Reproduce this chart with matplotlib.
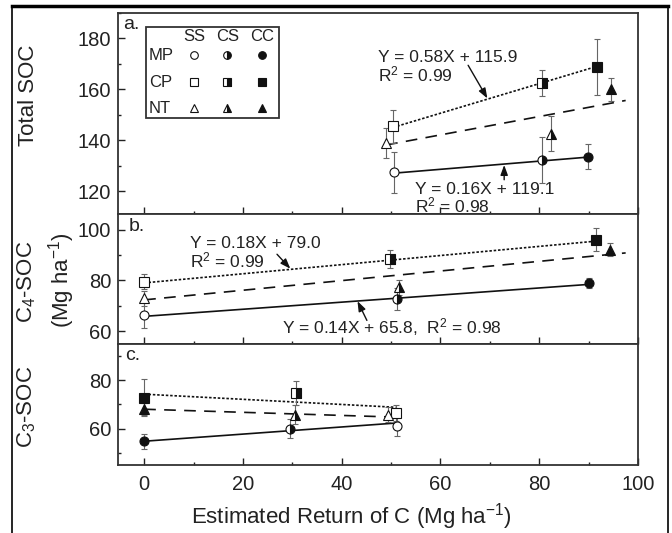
import matplotlib.pyplot as plt
from matplotlib.patches import Rectangle
from matplotlib.lines import Line2D
from matplotlib.ticker import MultipleLocator

plt.rcParams['font.family'] = ['Liberation Sans', 'DejaVu Sans']
plt.rcParams['mathtext.default'] = 'regular'

systems = ['MP', 'CP', 'NT']
rotations = ['SS', 'CS', 'CC']

# a. total SOC, order SS, CS, CC
tot_x = {'MP': [50.5, 80.5, 89.9], 'CP': [50.4, 80.6, 91.6], 'NT': [49.0, 82.3, 94.6]}
tot_y = {'MP': [127.6, 132.4, 133.7], 'CP': [145.5, 162.5, 168.8], 'NT': [139.0, 142.7, 160.0]}
tot_err = {'MP': [8.0, 9.0, 5.0], 'CP': [6.5, 5.0, 11.0], 'NT': [6.0, 7.0, 4.5]}
tot_fit = {'MP': (0.16, 119.1, 50.5, 89.9), 'CP': (0.58, 115.9, 50.4, 91.6),
           'NT': (0.36, 120.6, 49.0, 97.5)}

# b. C4-SOC
c4_x = {'MP': [0.0, 51.2, 90.0], 'CP': [0.0, 49.8, 91.4], 'NT': [0.0, 51.7, 94.4]}
c4_y = {'MP': [66.3, 72.6, 79.1], 'CP': [79.5, 88.4, 96.0], 'NT': [72.9, 77.2, 92.1]}
c4_err = {'MP': [5.0, 4.4, 2.0], 'CP': [3.0, 3.6, 4.5], 'NT': [3.0, 3.0, 2.5]}
c4_fit = {'MP': (0.14, 65.8, 0.0, 90.0), 'CP': (0.18, 79.0, 0.0, 91.4),
          'NT': (0.19, 72.3, 0.0, 97.5)}

# c. C3-SOC
c3_x = {'MP': [51.2, 29.5, 0.0], 'CP': [50.9, 30.7, 0.0], 'NT': [49.3, 30.5, 0.0]}
c3_y = {'MP': [61.0, 60.0, 54.8], 'CP': [66.4, 74.6, 72.8], 'NT': [65.8, 65.7, 68.0]}
c3_err = {'MP': [4.0, 4.0, 3.0], 'CP': [3.4, 5.0, 7.5], 'NT': [3.0, 4.0, 2.5]}
c3_fit = {'MP': (0.147, 54.8, 0.0, 51.2), 'CP': (-0.106, 74.2, 0.0, 50.9),
          'NT': (-0.064, 68.0, 0.0, 49.3)}

markers = {'MP': 'o', 'CP': 's', 'NT': '^'}
fills = {'SS': 'none', 'CS': 'right', 'CC': 'full'}
lstyle = {'MP': '-', 'CP': (0, (1.5, 1.1)), 'NT': (0, (7, 5))}
ink = '#111111'
txt = '#222222'


def draw_point(ax, x, y, sys, rot, ms, transform=None):
    kw = {} if transform is None else {'transform': transform}
    face = 'white' if rot == 'SS' else ink
    fs = 'full' if rot == 'SS' else fills[rot]
    ax.plot([x], [y], linestyle='none', marker=markers[sys], ms=ms, fillstyle=fs,
            markerfacecolor=face, markerfacecoloralt='white', markeredgecolor=ink,
            markeredgewidth=0.8, zorder=5, clip_on=False, **kw)


def draw_panel(ax, xs, ys, errs, fits):
    for sys in systems:
        k, b, x0, x1 = fits[sys]
        ax.plot([x0, x1], [k * x0 + b, k * x1 + b], color=ink, lw=1.2,
                linestyle=lstyle[sys], zorder=3)
        ax.errorbar(xs[sys], ys[sys], yerr=errs[sys], fmt='none', ecolor='#666666',
                    elinewidth=0.8, capsize=2.5, capthick=0.8, zorder=4)
        for x, y, rot in zip(xs[sys], ys[sys], rotations):
            draw_point(ax, x, y, sys, rot, 6.5)


fig = plt.figure(figsize=(6.72, 5.33), dpi=100)
gs = fig.add_gridspec(3, 1, height_ratios=[201, 129, 121], hspace=0,
                      left=118 / 672, right=638 / 672, top=1 - 13 / 533, bottom=1 - 465 / 533)
axa = fig.add_subplot(gs[0])
axb = fig.add_subplot(gs[1], sharex=axa)
axc = fig.add_subplot(gs[2], sharex=axa)

draw_panel(axa, tot_x, tot_y, tot_err, tot_fit)
draw_panel(axb, c4_x, c4_y, c4_err, c4_fit)
draw_panel(axc, c3_x, c3_y, c3_err, c3_fit)

axa.set_ylim(111, 190)
axb.set_ylim(55, 106)
axc.set_ylim(45, 95)
axc.set_xlim(-5.3, 100)
for ax in (axa, axb, axc):
    ax.yaxis.set_major_locator(MultipleLocator(20))
    ax.yaxis.set_minor_locator(MultipleLocator(10))
    ax.xaxis.set_major_locator(MultipleLocator(20))
    ax.xaxis.set_minor_locator(MultipleLocator(10))
    ax.tick_params(which='both', direction='in', labelsize=14.5, colors=txt, width=1)
    ax.tick_params(which='major', length=5)
    ax.tick_params(which='minor', length=2.5)
    ax.tick_params(axis='y', pad=5)
    for s in ax.spines.values():
        s.set_linewidth(1.3)
        s.set_color('#333333')
axa.tick_params(labelbottom=False)
axb.tick_params(labelbottom=False)
axc.tick_params(axis='x', pad=7)

fig.text(351 / 672, 1 - 517 / 533, 'Estimated Return of C (Mg ha$^{-1}$)', fontsize=16,
         ha='center', va='center', color=txt)

fig.text(28 / 672, 1 - 95 / 533, 'Total SOC', rotation=90, fontsize=16,
         ha='center', va='center', color=txt)
fig.text(27 / 672, 1 - 282 / 533, 'C$_4$-SOC', rotation=90, fontsize=16,
         ha='center', va='center', color=txt)
fig.text(62 / 672, 1 - 280 / 533, '(Mg ha$^{-1}$)', rotation=90, fontsize=16,
         ha='center', va='center', color=txt)
fig.text(27 / 672, 1 - 407 / 533, 'C$_3$-SOC', rotation=90, fontsize=16,
         ha='center', va='center', color=txt)

axa.text(0.01, 0.985, 'a.', transform=axa.transAxes, fontsize=14, va='top', color=txt)
axb.text(0.02, 0.97, 'b.', transform=axb.transAxes, fontsize=14, va='top', color=txt)
axc.text(0.013, 0.975, 'c.', transform=axc.transAxes, fontsize=14, va='top', color=txt)

# legend box in panel a
axa.add_patch(Rectangle((0.053, 0.478), 0.257, 0.452, transform=axa.transAxes,
                        fill=False, lw=1.3, edgecolor='#333333', zorder=6))
col_x = [0.146, 0.21, 0.277]
row_y = [0.791, 0.657, 0.527]
for cx, rot in zip(col_x, rotations):
    axa.text(cx, 0.885, rot, transform=axa.transAxes, fontsize=12, ha='center',
             va='center', color=txt)
for ry, sys in zip(row_y, systems):
    axa.text(0.059, ry, sys, transform=axa.transAxes, fontsize=12, ha='left',
             va='center', color=txt)
    for cx, rot in zip(col_x, rotations):
        draw_point(axa, cx, ry, sys, rot, 5.5, transform=axa.transAxes)

# equations
eq = dict(fontsize=12.5, color=txt)
arr = dict(arrowstyle='-|>,head_length=0.6,head_width=0.22', color=ink, lw=1.0,
           mutation_scale=10, shrinkA=0, shrinkB=0)
axa.text(47.4, 175.5, 'Y = 0.58X + 115.9\nR$^2$ = 0.99', va='top', linespacing=1.0, **eq)
axa.annotate('', xy=(69.5, 156.5), xytext=(65.6, 169.5), arrowprops=arr)
axa.text(54.9, 123.8, 'Y = 0.16X + 119.1\nR$^2$ = 0.98', va='top', linespacing=0.95, **eq)
axa.annotate('', xy=(72.9, 130.4), xytext=(72.9, 124.6), arrowprops=arr)
axb.text(9.3, 97.5, 'Y = 0.18X + 79.0\nR$^2$ = 0.99', va='top', linespacing=0.95, **eq)
axb.annotate('', xy=(29.6, 84.6), xytext=(26.9, 90.3), arrowprops=arr)
axb.text(27.9, 61.5, 'Y = 0.14X + 65.8,  R$^2$ = 0.98', va='center', **eq)
axb.annotate('', xy=(43.2, 71.8), xytext=(45.1, 64.2), arrowprops=arr)

# outer frame
fig.patches.append(Rectangle((12 / 672, -0.02), 656 / 672, 1.02 - 6 / 533,
                             transform=fig.transFigure, fill=False, lw=1.2,
                             edgecolor='black'))
fig.lines.append(Line2D([12 / 672, 668 / 672], [1 - 6 / 533, 1 - 6 / 533],
                        transform=fig.transFigure, lw=2.5, color='black'))

fig.savefig('out.png', dpi=100, facecolor='white')
